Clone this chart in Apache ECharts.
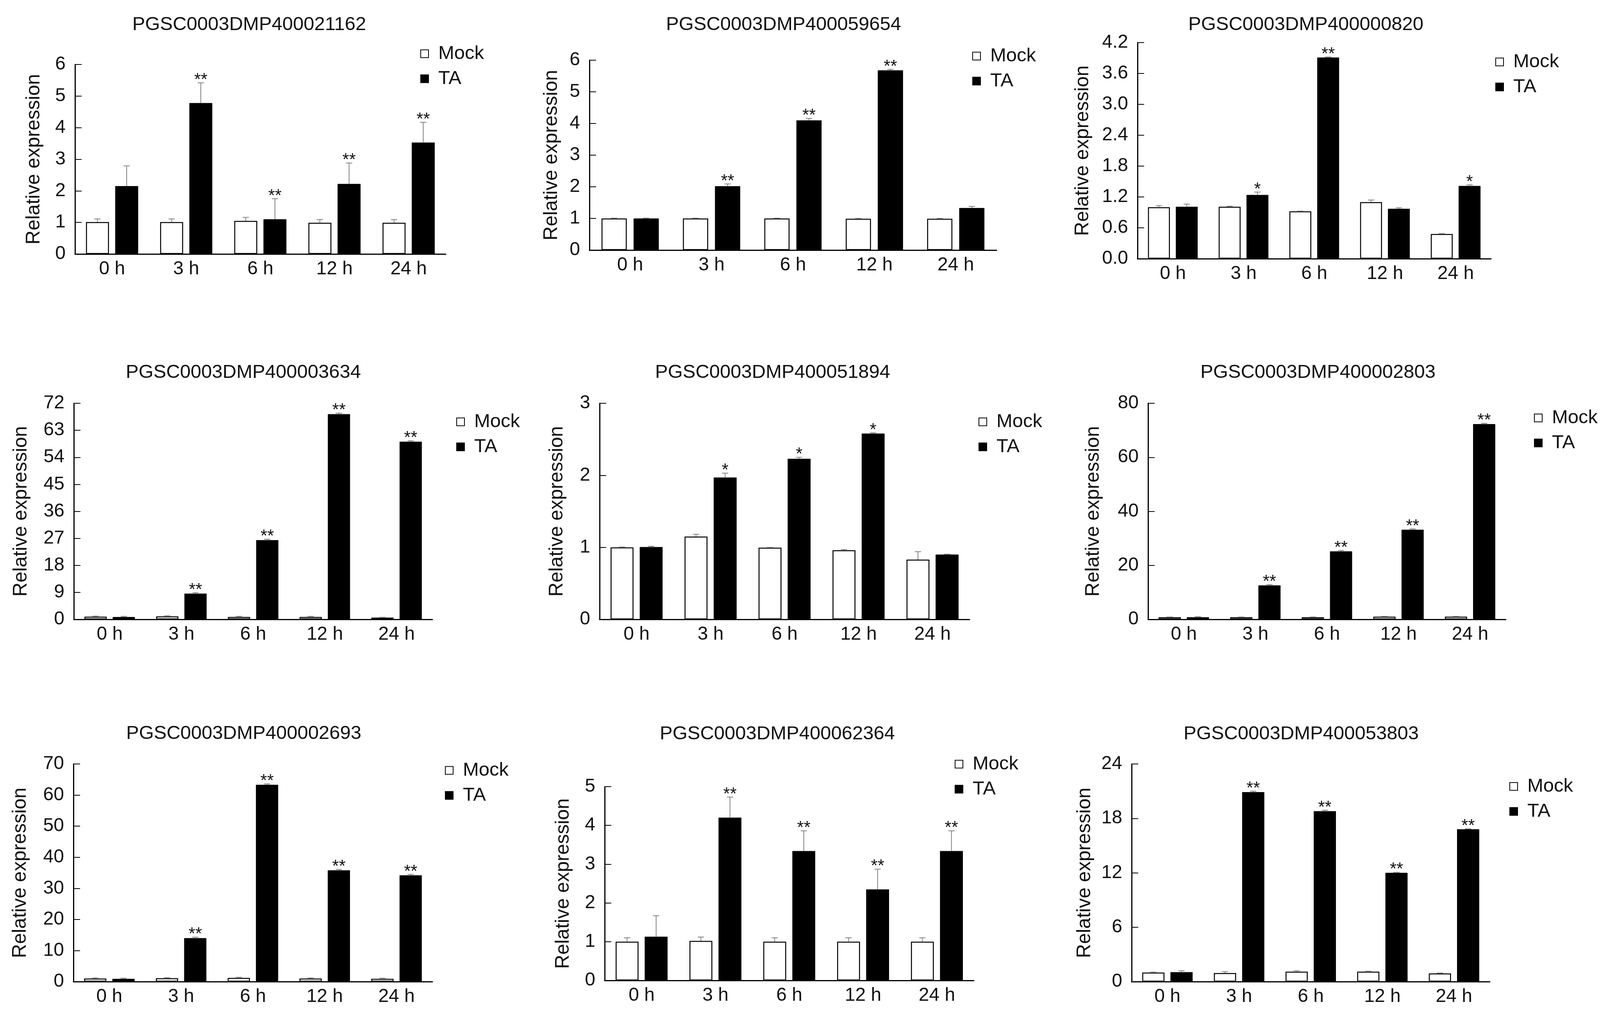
<!DOCTYPE html>
<html><head><meta charset="utf-8">
<script src="https://cdn.jsdelivr.net/npm/echarts@6/dist/echarts.min.js"></script>
<style>html,body{margin:0;padding:0;background:#fff}#c{width:4115px;height:2623px}</style>
</head><body><div id="c"></div>
<script>
const categories = ['0 h', '3 h', '6 h', '12 h', '24 h'];
const titles = ['PGSC0003DMP400021162', 'PGSC0003DMP400059654', 'PGSC0003DMP400000820',
  'PGSC0003DMP400003634', 'PGSC0003DMP400051894', 'PGSC0003DMP400002803',
  'PGSC0003DMP400002693', 'PGSC0003DMP400062364', 'PGSC0003DMP400053803'];

const mock1 = [1.01, 1.01, 1.05, 0.99, 0.99], mockErr1 = [0.1, 0.1, 0.11, 0.1, 0.1];
const ta1 = [2.15, 4.78, 1.1, 2.22, 3.53], taErr1 = [0.64, 0.64, 0.65, 0.66, 0.64];
const stars1 = ['', '**', '**', '**', '**'];

const mock2 = [1.0, 1.0, 1.0, 0.99, 0.99], mockErr2 = [0.01, 0.01, 0.01, 0.01, 0.01];
const ta2 = [1.0, 2.02, 4.1, 5.68, 1.33], taErr2 = [0.01, 0.07, 0.06, 0.03, 0.05];
const stars2 = ['', '**', '**', '**', ''];

const mock3 = [1.0, 1.01, 0.92, 1.1, 0.48], mockErr3 = [0.03, 0.01, 0.005, 0.04, 0.01];
const ta3 = [1.01, 1.24, 3.91, 0.97, 1.415], taErr3 = [0.05, 0.055, 0.01, 0.02, 0.02];
const stars3 = ['', '*', '**', '', '*'];

const mock4 = [0.9, 1.0, 0.8, 0.8, 0.6], mockErr4 = [0.2, 0.2, 0.2, 0.2, 0.1];
const ta4 = [0.8, 8.6, 26.4, 68.4, 59.2], taErr4 = [0.2, 0.3, 0.3, 0.3, 0.3];
const stars4 = ['', '**', '**', '**', '**'];

const mock5 = [1.0, 1.15, 0.995, 0.96, 0.83], mockErr5 = [0.005, 0.03, 0.005, 0.01, 0.11];
const ta5 = [1.005, 1.97, 2.23, 2.58, 0.9], taErr5 = [0.01, 0.06, 0.02, 0.01, 0.005];
const stars5 = ['', '*', '*', '*', ''];

const mock6 = [0.8, 0.8, 0.8, 1.0, 1.0], mockErr6 = [0.1, 0.1, 0.1, 0.1, 0.1];
const ta6 = [0.8, 12.6, 25.2, 33.2, 72.3], taErr6 = [0.2, 0.3, 0.3, 0.3, 0.3];
const stars6 = ['', '**', '**', '**', '**'];

const mock7 = [1.0, 1.1, 1.2, 1.0, 0.9], mockErr7 = [0.2, 0.2, 0.2, 0.2, 0.2];
const ta7 = [0.9, 14.0, 63.3, 35.8, 34.2], taErr7 = [0.2, 0.3, 0.3, 0.3, 0.3];
const stars7 = ['', '**', '**', '**', '**'];

const mock8 = [1.0, 1.02, 1.0, 1.0, 1.0], mockErr8 = [0.1, 0.1, 0.1, 0.1, 0.1];
const ta8 = [1.13, 4.2, 3.34, 2.35, 3.34], taErr8 = [0.54, 0.53, 0.52, 0.52, 0.52];
const stars8 = ['', '**', '**', '**', '**'];

const mock9 = [1.0, 0.95, 1.1, 1.1, 0.9], mockErr9 = [0.05, 0.15, 0.1, 0.05, 0.05];
const ta9 = [1.05, 20.9, 18.8, 12.0, 16.8], taErr9 = [0.15, 0.1, 0.1, 0.05, 0.05];
const stars9 = ['', '**', '**', '**', '**'];

const yMax = [6, 6, 4.2, 72, 3, 80, 70, 5, 24];
const yInterval = [1, 1, 0.6, 9, 1, 20, 10, 1, 6];
const yDecimals = [0, 0, 1, 0, 0, 0, 0, 0, 0];

const panels = [
  [mock1, mockErr1, ta1, taErr1, stars1], [mock2, mockErr2, ta2, taErr2, stars2], [mock3, mockErr3, ta3, taErr3, stars3],
  [mock4, mockErr4, ta4, taErr4, stars4], [mock5, mockErr5, ta5, taErr5, stars5], [mock6, mockErr6, ta6, taErr6, stars6],
  [mock7, mockErr7, ta7, taErr7, stars7], [mock8, mockErr8, ta8, taErr8, stars8], [mock9, mockErr9, ta9, taErr9, stars9]
];

// layout: grid left/right/top/bottom, title center, legend square left / first item center, name gap
const layout = [
  {l: 192, r: 1141, t: 165, b: 650, tx: 638, ty: 63, lx: 1076, ly: 137, ng: 80},
  {l: 1509, r: 2551, t: 154, b: 640, tx: 2006, ty: 63, lx: 2489, ly: 143, ng: 72},
  {l: 2912, r: 3817, t: 109, b: 662, tx: 3343, ty: 63, lx: 3828, ly: 158, ng: 115},
  {l: 189, r: 1107, t: 1032, b: 1585, tx: 623, ty: 953, lx: 1168, ly: 1079, ng: 110},
  {l: 1535, r: 2482, t: 1032, b: 1585, tx: 1978, ty: 953, lx: 2505, ly: 1079, ng: 84},
  {l: 2939, r: 3855, t: 1032, b: 1585, tx: 3374, ty: 953, lx: 3927, ly: 1069, ng: 115},
  {l: 188, r: 1107, t: 1955, b: 2512, tx: 624, ty: 1877, lx: 1139, ly: 1971, ng: 111},
  {l: 1548, r: 2493, t: 2013, b: 2509, tx: 1990, ty: 1878, lx: 2444, ly: 1955, ng: 81},
  {l: 2897, r: 3814, t: 1955, b: 2512, tx: 3331, ty: 1878, lx: 3864, ly: 2012, ng: 95}
];

const FONT = '"Liberation Sans", Arial, Helvetica, sans-serif';
const TXT = '#111111';
const BW = 0.31, BG = 0.27;

const grids = [], xAxes = [], yAxes = [], series = [], legends = [], graphics = [];

function makeErr(sign, stars) {
  return function (params, api) {
    const i = api.value(0), v = api.value(1), e = api.value(2);
    const band = api.size([1, 0])[0];
    const w = band * BW;
    const off = sign * (w + w * BG) / 2;
    const base = api.coord([i, v]);
    const top = api.coord([i, v + e]);
    const x = base[0] + off;
    const children = [
      {type: 'line', shape: {x1: x, y1: base[1], x2: x, y2: top[1]}, style: {stroke: '#808080', lineWidth: 2}},
      {type: 'line', shape: {x1: x - 8, y1: top[1], x2: x + 8, y2: top[1]}, style: {stroke: '#808080', lineWidth: 2}}
    ];
    const s = stars ? stars[params.dataIndex] : '';
    if (s) {
      children.push({type: 'text', x: x, y: top[1] + 16,
        style: {text: s, align: 'center', verticalAlign: 'bottom', font: '44px ' + FONT, fill: TXT}});
    }
    return {type: 'group', children: children};
  };
}

panels.forEach(function (p, k) {
  const L = layout[k];
  const mock = p[0], mockErr = p[1], ta = p[2], taErr = p[3], stars = p[4];
  grids.push({left: L.l, top: L.t, width: L.r - L.l, height: L.b - L.t, containLabel: false});
  xAxes.push({
    type: 'category', gridIndex: k, data: categories, boundaryGap: true,
    axisLine: {lineStyle: {color: '#000', width: 3}},
    axisTick: {inside: true, length: 15, lineStyle: {color: '#000', width: 2}},
    axisLabel: {interval: 0, fontSize: 48, fontFamily: FONT, color: TXT, margin: 15},
    splitLine: {show: false}
  });
  const dec = yDecimals[k];
  yAxes.push({
    type: 'value', gridIndex: k, min: 0, max: yMax[k], interval: yInterval[k],
    name: 'Relative expression', nameLocation: 'middle', nameGap: L.ng,
    nameTextStyle: {fontSize: 50, fontFamily: FONT, color: TXT},
    axisLine: {show: true, lineStyle: {color: '#000', width: 3}},
    axisTick: {show: true, inside: true, length: 17, lineStyle: {color: '#000', width: 2}},
    axisLabel: {fontSize: 48, fontFamily: FONT, color: TXT, margin: 24,
      formatter: function (v) { return v.toFixed(dec); }},
    splitLine: {show: false}
  });
  series.push({
    name: 'Mock', type: 'bar', xAxisIndex: k, yAxisIndex: k, data: mock,
    barWidth: (BW * 100) + '%', barGap: (BG * 100) + '%',
    itemStyle: {color: '#ffffff', borderColor: '#000', borderWidth: 2.5},
    emphasis: {disabled: true}
  });
  series.push({
    name: 'TA', type: 'bar', xAxisIndex: k, yAxisIndex: k, data: ta,
    barWidth: (BW * 100) + '%', barGap: (BG * 100) + '%',
    itemStyle: {color: '#000000', borderColor: '#000', borderWidth: 1},
    emphasis: {disabled: true}
  });
  series.push({
    name: 'errMock' + k, type: 'custom', xAxisIndex: k, yAxisIndex: k, z: 5,
    renderItem: makeErr(-1, null),
    data: mock.map(function (v, i) { return [i, v, mockErr[i]]; })
  });
  series.push({
    name: 'errTA' + k, type: 'custom', xAxisIndex: k, yAxisIndex: k, z: 5,
    renderItem: makeErr(1, stars),
    data: ta.map(function (v, i) { return [i, v, taErr[i]]; })
  });
  legends.push({
    orient: 'vertical', left: L.lx, top: L.ly - 24, padding: 0, itemWidth: 20, itemHeight: 20, itemGap: 15,
    icon: 'rect', selectedMode: false, data: ['Mock', 'TA'],
    textStyle: {fontSize: 49, fontFamily: FONT, color: TXT, padding: [0, 0, 0, 20]}
  });
  graphics.push({
    type: 'text', x: L.tx, y: L.ty,
    style: {text: titles[k], align: 'center', verticalAlign: 'middle', font: '49px ' + FONT, fill: TXT}
  });
});

const chart = echarts.init(document.getElementById('c'), null, {width: 4115, height: 2623});
chart.setOption({
  backgroundColor: '#ffffff',
  animation: false,
  grid: grids, xAxis: xAxes, yAxis: yAxes, series: series, legend: legends,
  graphic: graphics
});
</script></body></html>
